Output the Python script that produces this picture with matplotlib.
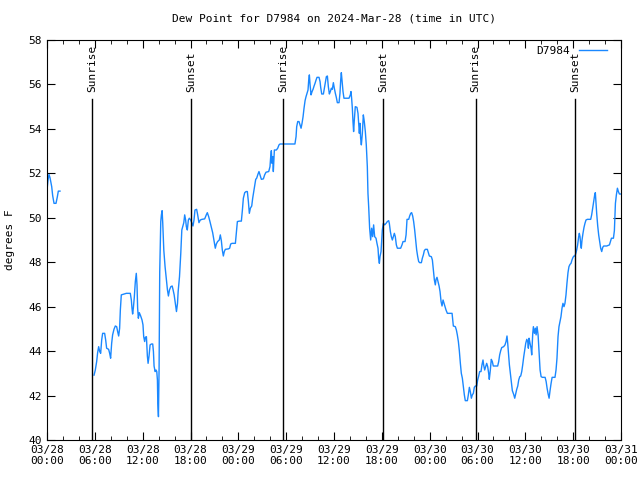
import numpy as np
import pandas as pd
import matplotlib
matplotlib.use("Agg")
import matplotlib.pyplot as plt
import matplotlib.dates as mdates
from matplotlib.ticker import MultipleLocator

plt.rcParams['font.family'] = ['DejaVu Sans Mono']

start = pd.Timestamp("2024-03-28 00:00")

# hours since 03/28 00:00 and dew point (F); NaN marks the data gap
hours = [
    0.0, 0.13, 0.25, 0.38, 0.59, 0.71, 0.88, 1.13, 1.3, 1.42, 1.63, 1.7,
    5.9, 6.06, 6.23, 6.35, 6.48, 6.61, 6.73, 6.86, 6.98, 7.23, 7.36, 7.48, 7.73, 7.86, 7.98,
    8.11, 8.23, 8.4, 8.57, 8.74, 8.86, 8.99, 9.11, 9.2, 9.32, 9.61, 9.95, 10.45, 10.58,
    10.66, 10.74, 10.83, 10.95, 11.08, 11.2, 11.29, 11.37, 11.46, 11.58, 11.75, 11.92,
    12.04, 12.13, 12.25, 12.34, 12.47, 12.59, 12.68, 12.8, 12.93, 13.1, 13.26, 13.35,
    13.43, 13.56, 13.68, 13.77, 13.85, 13.9, 13.98, 14.06, 14.14, 14.27, 14.35, 14.44,
    14.52, 14.65, 14.81, 14.98, 15.11, 15.23, 15.36, 15.53, 15.7, 15.82, 15.95, 16.12,
    16.24, 16.37, 16.45, 16.62, 16.78, 16.91, 17.03, 17.16, 17.27, 17.39, 17.48, 17.6,
    17.73, 17.85, 18.02, 18.19, 18.31, 18.44, 18.56, 18.77, 18.9, 19.06, 19.23, 19.44,
    19.78, 19.98, 20.11, 20.28, 20.44, 20.61, 20.78, 20.9, 21.03, 21.11, 21.24, 21.4,
    21.61, 21.74, 21.87, 21.99, 22.12, 22.24, 22.37, 22.75, 22.91, 23.04, 23.21, 23.63,
    23.75, 23.88, 24.13, 24.38, 24.51, 24.63, 24.8, 24.97, 25.13, 25.26, 25.38, 25.51,
    25.68, 25.8, 25.93, 26.05, 26.18, 26.3, 26.47, 26.59, 26.72, 26.89, 27.14, 27.3,
    27.47, 27.81, 27.97, 28.06, 28.14, 28.23, 28.31, 28.39, 28.52, 28.77, 28.94, 29.1,
    29.23, 29.85, 30.49, 31.1, 31.24, 31.32, 31.45, 31.61, 31.74, 31.87, 31.99, 32.12,
    32.24, 32.37, 32.49, 32.62, 32.74, 32.83, 32.91, 33.0, 33.12, 33.25, 33.37, 33.5,
    33.62, 33.75, 33.87, 34.12, 34.25, 34.33, 34.46, 34.67, 34.79, 34.92, 35.04, 35.17,
    35.29, 35.42, 35.54, 35.67, 35.79, 35.92, 36.04, 36.17, 36.29, 36.42, 36.63, 36.75,
    36.84, 36.92, 37.0, 37.13, 37.25, 37.59, 37.88, 38.05, 38.13, 38.21, 38.3, 38.38,
    38.46, 38.55, 38.67, 38.88, 39.01, 39.09, 39.18, 39.26, 39.34, 39.43, 39.55, 39.68,
    39.8, 39.93, 40.05, 40.18, 40.26, 40.35, 40.47, 40.6, 40.72, 40.85, 40.97, 41.1,
    41.27, 41.39, 41.52, 41.6, 41.69, 41.77, 41.9, 41.98, 42.06, 42.19, 42.36, 42.53,
    42.69, 42.86, 42.94, 43.07, 43.19, 43.32, 43.44, 43.57, 43.69, 43.82, 43.95, 44.36,
    44.53, 44.66, 44.91, 45.04, 45.16, 45.37, 45.49, 45.62, 45.74, 45.87, 45.99, 46.12,
    46.25, 46.37, 46.5, 46.62, 46.75, 46.96, 47.08, 47.21, 47.33, 47.46, 47.71, 47.84,
    47.96, 48.21, 48.34, 48.46, 48.59, 48.71, 48.8, 48.92, 49.05, 49.18, 49.3, 49.43,
    49.55, 49.68, 49.8, 49.93, 50.05, 50.22, 50.56, 50.81, 50.89, 50.97, 51.22, 51.35,
    51.47, 51.6, 51.72, 51.85, 51.97, 52.1, 52.22, 52.35, 52.47, 52.73, 52.85, 52.98,
    53.1, 53.23, 53.35, 53.48, 53.6, 53.73, 53.9, 54.02, 54.15, 54.27, 54.44, 54.56,
    54.69, 54.77, 54.9, 55.02, 55.15, 55.28, 55.4, 55.48, 55.61, 55.73, 55.86, 55.98,
    56.53, 56.66, 56.78, 56.91, 57.04, 57.28, 57.45, 57.58, 57.7, 57.79, 57.87, 58.0,
    58.12, 58.25, 58.37, 58.54, 58.67, 58.8, 58.92, 59.05, 59.17, 59.3, 59.42, 59.55,
    59.67, 59.8, 59.92, 60.05, 60.18, 60.3, 60.38, 60.47, 60.59, 60.72, 60.8, 60.93,
    61.01, 61.14, 61.26, 61.35, 61.47, 61.6, 61.73, 61.85, 61.98, 62.14, 62.48, 62.61,
    62.73, 62.86, 62.98, 63.11, 63.23, 63.36, 63.72, 63.85, 63.97, 64.1, 64.22, 64.35,
    64.47, 64.6, 64.72, 64.85, 64.97, 65.1, 65.22, 65.35, 65.47, 65.6, 65.73, 65.85,
    65.98, 66.1, 66.23, 66.36, 66.44, 66.56, 66.69, 66.77, 66.86, 66.94, 67.02, 67.11,
    67.23, 67.36, 67.48, 67.61, 67.78, 68.2, 68.32, 68.45, 68.57, 68.7, 68.78, 68.87,
    68.95, 69.08, 69.2, 69.33, 69.45, 69.58, 69.71, 69.83, 70.21, 70.55, 70.67, 70.8,
    71.05, 71.17, 71.3, 71.42, 71.55, 71.67, 71.8, 71.97,
]
dewpt = [
    51.25, 51.7, 51.95, 51.8, 51.4, 51.0, 50.65, 50.65, 50.95, 51.2, 51.2, np.nan,
    42.92, 43.15, 43.53, 43.93, 44.2, 43.98, 43.9, 44.5, 44.8, 44.8, 44.5, 44.13, 44.08, 43.9, 43.68,
    44.35, 44.73, 44.98, 45.13, 45.1, 44.88, 44.68, 45.03, 45.85, 46.53, 46.56, 46.6, 46.6, 46.3,
    45.93, 45.67, 45.93, 46.42, 47.13, 47.5, 46.98, 45.93, 45.48, 45.73, 45.58, 45.4,
    45.18, 44.65, 44.43, 44.62, 44.65, 43.78, 43.45, 43.78, 44.28, 44.32, 44.32, 43.98,
    43.33, 43.08, 43.15, 43.08, 42.7, 41.65, 41.05, 43.23, 47.58, 49.83, 50.13, 50.32,
    49.75, 48.55, 47.8, 47.2, 46.75, 46.48, 46.75, 46.9, 46.93, 46.75, 46.53, 46.08,
    45.78, 46.15, 46.68, 47.35, 48.4, 49.45, 49.6, 49.78, 50.13, 49.9, 49.6, 49.45,
    49.9, 49.98, 49.9, 49.75, 49.63, 49.9, 50.35, 50.38, 50.13, 49.78, 49.9, 49.93,
    49.95, 50.13, 50.23, 50.05, 49.83, 49.57, 49.33, 49.08, 48.78, 48.63, 48.82, 48.93,
    49.0, 49.23, 48.97, 48.55, 48.28, 48.48, 48.58, 48.6, 48.63, 48.82, 48.85, 48.85,
    49.3, 49.83, 49.85, 49.85, 50.35, 50.88, 51.13, 51.18, 51.18, 50.73, 50.2, 50.43,
    50.53, 50.88, 51.18, 51.48, 51.73, 51.78, 51.97, 52.08, 51.93, 51.73, 51.75, 51.93,
    52.05, 52.08, 52.3, 52.75, 53.02, 52.45, 52.75, 52.08, 53.05, 53.05, 53.13, 53.28,
    53.32, 53.32, 53.32, 53.32, 53.65, 54.1, 54.33, 54.33, 54.18, 54.03, 54.25, 54.55,
    54.93, 55.27, 55.45, 55.6, 55.75, 56.2, 56.43, 55.98, 55.53, 55.68, 55.78, 55.93,
    56.05, 56.2, 56.32, 56.32, 56.13, 55.87, 55.57, 55.57, 55.83, 56.13, 56.35, 56.38,
    55.9, 55.57, 55.68, 55.83, 55.78, 56.08, 55.83, 55.6, 55.42, 55.18, 55.18, 55.6,
    56.2, 56.53, 56.2, 55.68, 55.38, 55.38, 55.38, 55.53, 55.68, 55.38, 54.93, 54.33,
    53.88, 54.4, 55.0, 54.97, 54.7, 54.25, 53.8, 54.25, 53.58, 53.28, 53.77, 54.63,
    54.33, 53.88, 53.28, 52.3, 51.1, 50.5, 49.53, 49.0, 49.53, 49.15, 49.68, 49.15,
    49.08, 48.85, 48.63, 48.18, 47.95, 48.25, 48.48, 48.93, 49.45, 49.75, 49.68, 49.75,
    49.83, 49.87, 49.75, 49.38, 49.15, 49.0, 49.15, 49.3, 49.15, 48.78, 48.63, 48.63,
    48.78, 48.93, 48.93, 49.23, 49.93, 49.93, 50.08, 50.2, 50.23, 50.08, 49.83, 49.45,
    49.0, 48.55, 48.25, 48.03, 47.98, 47.98, 48.18, 48.33, 48.52, 48.58, 48.58, 48.43,
    48.28, 48.25, 48.1, 47.65, 47.2, 46.98, 47.23, 47.32, 47.13, 46.93, 46.68, 46.23,
    46.03, 46.3, 46.15, 46.0, 45.85, 45.7, 45.7, 45.7, 45.43, 45.13, 45.1, 44.95,
    44.73, 44.43, 44.02, 43.45, 43.0, 42.78, 42.4, 42.03, 41.77, 41.77, 42.03, 42.37,
    42.18, 41.88, 42.03, 42.1, 42.37, 42.43, 42.43, 42.7, 42.88, 43.08, 43.08, 43.38,
    43.6, 43.38, 43.15, 43.3, 43.45, 43.3, 43.0, 42.73, 43.15, 43.63, 43.53, 43.33,
    43.33, 43.53, 43.83, 44.02, 44.16, 44.2, 44.28, 44.43, 44.68, 44.35, 43.98, 43.38,
    43.0, 42.63, 42.22, 42.05, 41.88, 42.1, 42.28, 42.43, 42.7, 42.85, 42.88, 43.08,
    43.38, 43.75, 44.05, 44.35, 44.53, 44.43, 44.13, 44.58, 44.35, 44.13, 43.83, 44.8,
    45.1, 44.8, 45.03, 44.73, 45.1, 44.73, 43.9, 43.15, 42.85, 42.82, 42.82, 42.63,
    42.33, 42.07, 41.88, 42.25, 42.55, 42.82, 42.82, 43.15, 43.68, 44.65, 45.1, 45.33,
    45.55, 45.93, 46.15, 46.0, 46.15, 46.53, 47.05, 47.53, 47.8, 47.9, 47.95, 48.1,
    48.22, 48.28, 48.28, 48.43, 48.55, 48.78, 49.15, 49.3, 49.15, 48.82, 48.63, 49.0,
    49.3, 49.57, 49.75, 49.9, 49.93, 49.93, 50.13, 50.43, 50.73, 51.03, 51.13, 50.65,
    50.2, 49.63, 49.23, 48.93, 48.63, 48.48, 48.67, 48.73, 48.73, 48.78, 48.93, 49.08,
    49.08, 49.42, 50.65, 51.03, 51.33, 51.18, 51.07, 51.07,
]

sun_labels = ["Sunrise", "Sunset", "Sunrise", "Sunset", "Sunrise", "Sunset"]
sun_hours = [5.68, 18.1, 29.65, 42.17, 53.75, 66.25]

times = start + pd.to_timedelta(hours, unit="h")
sun_times = start + pd.to_timedelta(sun_hours, unit="h")

fig = plt.figure(figsize=(6.4, 4.8), dpi=100)
ax = fig.add_axes([47/640, 40/480, 574/640, 400/480])

ax.plot(times, dewpt, color="#1a88ff", lw=1, label="D7984")

for t, lab in zip(sun_times, sun_labels):
    ax.plot([t, t], [40, 55.35], color="black", lw=1)
    ax.text(t, 55.65, lab, rotation=90, ha="center", va="bottom", fontsize=8)

ax.set_xlim(start, start + pd.Timedelta(hours=72))
ax.set_ylim(40, 58)
ax.yaxis.set_major_locator(MultipleLocator(2))
ax.xaxis.set_major_locator(mdates.HourLocator(byhour=[0, 6, 12, 18]))
ax.xaxis.set_minor_locator(mdates.HourLocator(byhour=range(0, 24, 2)))
ax.xaxis.set_major_formatter(mdates.DateFormatter("%m/%d\n%H:%M"))
ax.tick_params(which="both", direction="in", top=True, right=True, labelsize=8)
ax.tick_params(which="major", length=6)
ax.tick_params(which="minor", length=3)

ax.set_ylabel("degrees F", fontsize=8, labelpad=10)
ax.set_title("Dew Point for D7984 on 2024-Mar-28 (time in UTC)", fontsize=8, pad=13)
ax.legend(loc="upper right", bbox_to_anchor=(0.985, 1.0), frameon=False, fontsize=8,
          markerfirst=False, handlelength=2.5, handletextpad=0.8, borderaxespad=0.1)

fig.savefig("out.png", dpi=100)
